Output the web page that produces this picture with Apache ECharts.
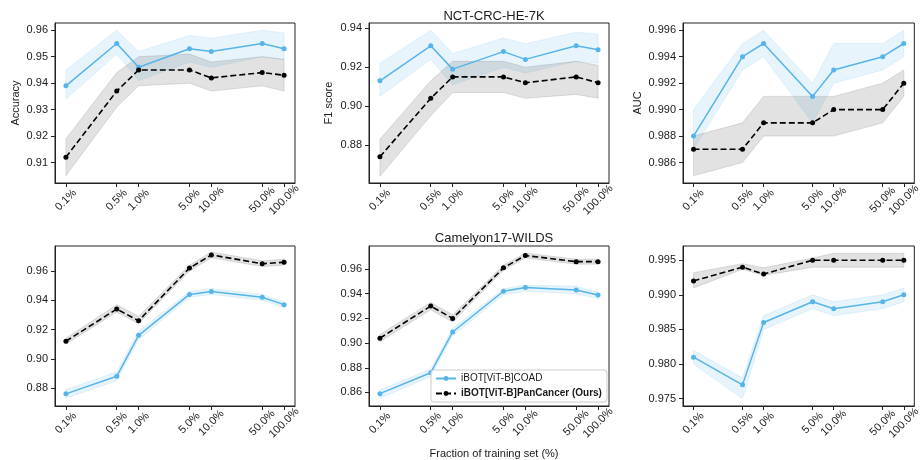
<!DOCTYPE html>
<html>
<head>
<meta charset="utf-8">
<script src="https://cdn.jsdelivr.net/npm/echarts@6/dist/echarts.min.js"></script>
<style>
  html, body { margin: 0; padding: 0; background: #fff; }
  #chart { width: 923px; height: 460px; }
</style>
</head>
<body>
<div id="chart"></div>
<script>
// ---- data ----
var fractions = [0.1, 0.5, 1, 5, 10, 50, 100];
var fractionLabels = ['0.1%', '0.5%', '1.0%', '5.0%', '10.0%', '50.0%', '100.0%'];
var seriesNames = ['iBOT[ViT-B]COAD', 'iBOT[ViT-B]PanCancer (Ours)'];
var datasetTitles = ['NCT-CRC-HE-7K', 'Camelyon17-WILDS'];
var metricNames = ['Accuracy', 'F1 score', 'AUC'];

// NCT-CRC-HE-7K
var nctAccCoad   = [0.939, 0.955, 0.946, 0.953, 0.952, 0.955, 0.953];
var nctAccCoadLo = [0.934, 0.951, 0.941, 0.948, 0.946, 0.950, 0.949];
var nctAccCoadHi = [0.945, 0.960, 0.952, 0.958, 0.957, 0.960, 0.959];
var nctAccPan    = [0.912, 0.937, 0.945, 0.945, 0.942, 0.944, 0.943];
var nctAccPanLo  = [0.905, 0.931, 0.939, 0.940, 0.937, 0.939, 0.937];
var nctAccPanHi  = [0.919, 0.944, 0.950, 0.951, 0.948, 0.950, 0.949];

var nctF1Coad   = [0.913, 0.931, 0.919, 0.928, 0.924, 0.931, 0.929];
var nctF1CoadLo = [0.905, 0.924, 0.911, 0.920, 0.917, 0.923, 0.922];
var nctF1CoadHi = [0.922, 0.939, 0.927, 0.935, 0.932, 0.938, 0.937];
var nctF1Pan    = [0.874, 0.904, 0.915, 0.915, 0.912, 0.915, 0.912];
var nctF1PanLo  = [0.864, 0.895, 0.907, 0.907, 0.904, 0.906, 0.904];
var nctF1PanHi  = [0.883, 0.913, 0.923, 0.923, 0.920, 0.923, 0.921];

var nctAucCoad   = [0.988, 0.994, 0.995, 0.991, 0.993, 0.994, 0.995];
var nctAucCoadLo = [0.987, 0.993, 0.994, 0.989, 0.992, 0.993, 0.994];
var nctAucCoadHi = [0.990, 0.995, 0.996, 0.992, 0.995, 0.995, 0.996];
var nctAucPan    = [0.987, 0.987, 0.989, 0.989, 0.990, 0.990, 0.992];
var nctAucPanLo  = [0.985, 0.986, 0.988, 0.988, 0.988, 0.989, 0.991];
var nctAucPanHi  = [0.988, 0.989, 0.991, 0.991, 0.991, 0.992, 0.993];

// Camelyon17-WILDS
var camAccCoad   = [0.876, 0.888, 0.916, 0.944, 0.946, 0.942, 0.937];
var camAccCoadLo = [0.873, 0.885, 0.913, 0.942, 0.944, 0.940, 0.935];
var camAccCoadHi = [0.879, 0.891, 0.919, 0.946, 0.948, 0.944, 0.939];
var camAccPan    = [0.912, 0.934, 0.926, 0.962, 0.971, 0.965, 0.966];
var camAccPanLo  = [0.910, 0.932, 0.924, 0.960, 0.969, 0.963, 0.964];
var camAccPanHi  = [0.914, 0.937, 0.929, 0.964, 0.973, 0.967, 0.968];

var camF1Coad   = [0.859, 0.876, 0.909, 0.942, 0.945, 0.943, 0.939];
var camF1CoadLo = [0.855, 0.873, 0.906, 0.939, 0.942, 0.940, 0.936];
var camF1CoadHi = [0.862, 0.879, 0.912, 0.944, 0.947, 0.946, 0.941];
var camF1Pan    = [0.904, 0.930, 0.920, 0.961, 0.971, 0.966, 0.966];
var camF1PanLo  = [0.901, 0.927, 0.917, 0.959, 0.969, 0.964, 0.964];
var camF1PanHi  = [0.907, 0.933, 0.923, 0.963, 0.973, 0.968, 0.968];

var camAucCoad   = [0.981, 0.977, 0.986, 0.989, 0.988, 0.989, 0.990];
var camAucCoadLo = [0.980, 0.975, 0.985, 0.988, 0.987, 0.988, 0.989];
var camAucCoadHi = [0.982, 0.978, 0.987, 0.990, 0.989, 0.990, 0.991];
var camAucPan    = [0.992, 0.994, 0.993, 0.995, 0.995, 0.995, 0.995];
var camAucPanLo  = [0.991, 0.9937, 0.9928, 0.994, 0.994, 0.994, 0.994];
var camAucPanHi  = [0.9932, 0.9945, 0.9939, 0.9953, 0.996, 0.996, 0.996];

// y tick labels per panel
var nctAccTicks = [0.91, 0.92, 0.93, 0.94, 0.95, 0.96];
var nctF1Ticks  = [0.88, 0.90, 0.92, 0.94];
var nctAucTicks = [0.986, 0.988, 0.990, 0.992, 0.994, 0.996];
var camAccTicks = [0.88, 0.90, 0.92, 0.94, 0.96];
var camF1Ticks  = [0.86, 0.88, 0.90, 0.92, 0.94, 0.96];
var camAucTicks = [0.975, 0.980, 0.985, 0.990, 0.995];

// ---- style ----
var FONT = "'Liberation Sans', Arial, sans-serif";
var BLUE = '#56B4E9';
var BLUE_BAND = 'rgba(86,180,233,0.14)';
var GRAY_BAND = 'rgba(110,110,110,0.2)';
var TEXT = '#1a1a1a';

// log10 positions for the x axis (matplotlib log scale look-alike)
var xPos = fractions.map(function (f) { return Math.log10(f); });

var panels = [
  { coad: nctAccCoad, coadLo: nctAccCoadLo, coadHi: nctAccCoadHi, pan: nctAccPan, panLo: nctAccPanLo, panHi: nctAccPanHi,
    ticks: nctAccTicks, dec: 2, min: 0.90225, max: 0.96275, yName: metricNames[0], nameGap: 34, left: 55, top: 23 },
  { coad: nctF1Coad, coadLo: nctF1CoadLo, coadHi: nctF1CoadHi, pan: nctF1Pan, panLo: nctF1PanLo, panHi: nctF1PanHi,
    ticks: nctF1Ticks, dec: 2, min: 0.8605, max: 0.9427, yName: metricNames[1], nameGap: 35, left: 369, top: 23 },
  { coad: nctAucCoad, coadLo: nctAucCoadLo, coadHi: nctAucCoadHi, pan: nctAucPan, panLo: nctAucPanLo, panHi: nctAucPanHi,
    ticks: nctAucTicks, dec: 3, min: 0.98445, max: 0.99655, yName: metricNames[2], nameGap: 40, left: 683, top: 23 },
  { coad: camAccCoad, coadLo: camAccCoadLo, coadHi: camAccCoadHi, pan: camAccPan, panLo: camAccPanLo, panHi: camAccPanHi,
    ticks: camAccTicks, dec: 2, min: 0.8677, max: 0.9771, yName: '', nameGap: 34, left: 55, top: 246 },
  { coad: camF1Coad, coadLo: camF1CoadLo, coadHi: camF1CoadHi, pan: camF1Pan, panLo: camF1PanLo, panHi: camF1PanHi,
    ticks: camF1Ticks, dec: 2, min: 0.849, max: 0.9787, yName: '', nameGap: 34, left: 369, top: 246 },
  { coad: camAucCoad, coadLo: camAucCoadLo, coadHi: camAucCoadHi, pan: camAucPan, panLo: camAucPanLo, panHi: camAucPanHi,
    ticks: camAucTicks, dec: 3, min: 0.97395, max: 0.99705, yName: '', nameGap: 34, left: 683, top: 246 }
];

function bandSeries(idx, lo, hi, fill) {
  return {
    type: 'custom',
    xAxisIndex: idx,
    yAxisIndex: idx,
    silent: true,
    z: 1,
    data: xPos.map(function (x, i) { return [x, lo[i], hi[i]]; }),
    renderItem: function (params, api) {
      if (params.dataIndex !== 0) return;
      var pts = [];
      for (var i = 0; i < xPos.length; i++) pts.push(api.coord([xPos[i], hi[i]]));
      for (var j = xPos.length - 1; j >= 0; j--) pts.push(api.coord([xPos[j], lo[j]]));
      return {
        type: 'polygon',
        shape: { points: pts },
        style: { fill: fill, stroke: fill, lineWidth: 1 }
      };
    }
  };
}

function xyData(vals) {
  return xPos.map(function (x, i) { return [x, vals[i]]; });
}

var grids = [], xAxes = [], yAxes = [], series = [];

panels.forEach(function (p, idx) {
  grids.push({
    left: p.left, top: p.top, width: idx % 3 === 2 ? 239 : 240, height: 160,
    show: true, borderColor: '#222', borderWidth: 1, backgroundColor: 'transparent'
  });
  xAxes.push({
    type: 'value', gridIndex: idx, min: -1.15, max: 2.15,
    splitLine: { show: false },
    axisLine: { show: true, onZero: false, lineStyle: { color: '#222', width: 1 } },
    axisTick: { show: true, length: 4, lineStyle: { color: '#222' }, customValues: xPos },
    axisLabel: {
      customValues: xPos,
      rotate: 45, align: 'center', verticalAlign: 'middle', margin: 17,
      fontFamily: FONT, fontSize: 11, color: TEXT,
      formatter: function (v) {
        var best = 0;
        for (var i = 1; i < xPos.length; i++) {
          if (Math.abs(xPos[i] - v) < Math.abs(xPos[best] - v)) best = i;
        }
        return fractionLabels[best];
      }
    }
  });
  yAxes.push({
    type: 'value', gridIndex: idx, min: p.min, max: p.max,
    name: p.yName, nameLocation: 'middle', nameGap: p.nameGap,
    nameTextStyle: { fontFamily: FONT, fontSize: 11, color: TEXT },
    splitLine: { show: false },
    axisLine: { show: true, onZero: false, lineStyle: { color: '#222', width: 1 } },
    axisTick: { show: true, length: 4, lineStyle: { color: '#222' }, customValues: p.ticks },
    axisLabel: {
      customValues: p.ticks, margin: 7,
      fontFamily: FONT, fontSize: 11, color: TEXT,
      formatter: (function (d) { return function (v) { return v.toFixed(d); }; })(p.dec)
    }
  });

  series.push(bandSeries(idx, p.coadLo, p.coadHi, BLUE_BAND));
  series.push(bandSeries(idx, p.panLo, p.panHi, GRAY_BAND));
  series.push({
    name: seriesNames[0], type: 'line', xAxisIndex: idx, yAxisIndex: idx,
    data: xyData(p.coad), symbol: 'circle', symbolSize: 5, z: 3,
    itemStyle: { color: BLUE },
    lineStyle: { color: BLUE, width: 1.5 },
    emphasis: { disabled: true }
  });
  series.push({
    name: seriesNames[1], type: 'line', xAxisIndex: idx, yAxisIndex: idx,
    data: xyData(p.pan), symbol: 'circle', symbolSize: 5, z: 4,
    itemStyle: { color: '#000' },
    lineStyle: { color: '#000', width: 1.6, type: [6, 3] },
    emphasis: { disabled: true }
  });
});

var chart = echarts.init(document.getElementById('chart'), null, { renderer: 'canvas' });

chart.setOption({
  backgroundColor: '#fff',
  animation: false,
  title: [
    { text: datasetTitles[0], left: 489, top: 5, textAlign: 'center',
      textStyle: { fontFamily: FONT, fontSize: 13, fontWeight: 'normal', color: TEXT } },
    { text: datasetTitles[1], left: 489, top: 227, textAlign: 'center',
      textStyle: { fontFamily: FONT, fontSize: 13, fontWeight: 'normal', color: TEXT } },
    { text: 'Fraction of training set (%)', left: 489, top: 443, textAlign: 'center',
      textStyle: { fontFamily: FONT, fontSize: 11, fontWeight: 'normal', color: TEXT } }
  ],
  legend: {
    data: seriesNames,
    orient: 'vertical',
    left: 431, top: 370,
    padding: [2, 5, 2, 4],
    itemGap: 2,
    itemWidth: 20,
    itemHeight: 6,
    backgroundColor: 'rgba(255,255,255,0.85)',
    borderColor: '#cccccc',
    borderWidth: 1,
    borderRadius: 3,
    selectedMode: false,
    textStyle: {
      fontFamily: FONT, fontSize: 10, color: TEXT, lineHeight: 13,
      rich: { b: { fontFamily: FONT, fontSize: 10, fontWeight: 'bold', color: TEXT, lineHeight: 13 } }
    },
    formatter: function (name) {
      return name === seriesNames[1] ? '{b|' + name + '}' : name;
    }
  },
  grid: grids,
  xAxis: xAxes,
  yAxis: yAxes,
  series: series
});
</script>
</body>
</html>
